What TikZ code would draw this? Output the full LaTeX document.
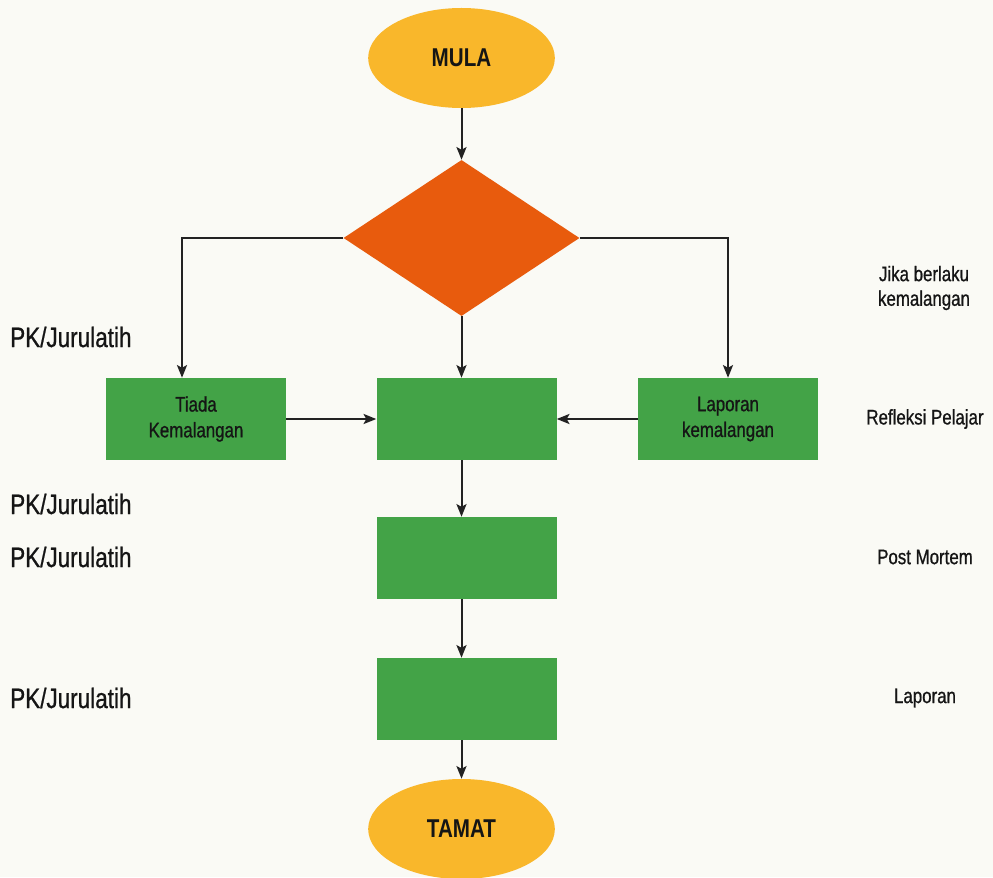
\documentclass[tikz,border=0pt]{standalone}
\usepackage{fontspec}
\setmainfont{Liberation Sans}[FakeStretch=0.8]
\newfontfamily\lblfont{Liberation Sans}[FakeStretch=0.8, FakeBold=0.8]
\newfontfamily\termfont{Liberation Sans Bold}[FakeStretch=0.8]
\usetikzlibrary{shapes.geometric,arrows.meta,calc}
\definecolor{bgc}{HTML}{FAFAF5}
\definecolor{startc}{HTML}{F9B72B}
\definecolor{decc}{HTML}{E85B0D}
\definecolor{boxc}{HTML}{43A347}
\definecolor{linec}{HTML}{222222}
\definecolor{txtc}{HTML}{151515}
\begin{document}
\begin{tikzpicture}[x=0.03cm,y=-0.03cm,
  terminal/.style={ellipse, fill=startc, minimum width=5.6cm, minimum height=3.0cm, inner sep=0pt, text=txtc, font=\termfont\fontsize{22}{26}\selectfont},
  decision/.style={diamond, fill=decc, minimum width=7.08cm, minimum height=4.68cm, inner sep=0pt},
  procbox/.style={rectangle, fill=boxc, minimum width=5.4cm, minimum height=2.46cm, inner sep=0pt, align=center, text=txtc, font=\lblfont\fontsize{18}{22}\selectfont},
  sidelbl/.style={inner sep=0pt, align=center, text=txtc, font=\lblfont\fontsize{18}{21}\selectfont},
  pklbl/.style={inner sep=0pt, anchor=west, text=txtc, font=\lblfont\fontsize{24}{28}\selectfont},
  conn/.style={draw=linec, line width=1.7pt},
  arr/.style={conn, -{Stealth[length=0.38cm,width=0.3cm,inset=0.08cm]}}
]
\fill[bgc] (0,0) rectangle (993,877);
\useasboundingbox (0,0) rectangle (993,877);

\node[terminal] (mula) at (461.5,58) {MULA};
\node[decision] (dec) at (461.5,238) {};
\node[procbox] (b1) at (196,419) {Tiada\\Kemalangan};
\node[procbox] (b0) at (466.5,419) {};
\node[procbox] (b2) at (728,419) {Laporan\\kemalangan};
\node[procbox] (m2) at (466.5,558) {};
\node[procbox] (m3) at (466.5,699) {};
\node[terminal] (tamat) at (461.5,829) {TAMAT};

\draw[arr] (mula.south) -- (dec.north);
\draw[arr] (dec.west) -| ([xshift=-0.42cm]b1.north);
\draw[arr] (dec.east) -| (b2.north);
\draw[arr] (dec.south) -- (dec.south |- b0.north);
\draw[arr] (b1.east) -- (b0.west);
\draw[arr] (b2.west) -- (b0.east);
\draw[arr] (dec.south |- b0.south) -- (dec.south |- m2.north);
\draw[arr] (dec.south |- m2.south) -- (dec.south |- m3.north);
\draw[arr] (dec.south |- m3.south) -- (tamat.north);

\node[sidelbl] (t1) at (924,288) {Jika berlaku\\kemalangan};
\node[sidelbl] (t2) at (925,419) {Refleksi Pelajar};
\node[sidelbl] (t3) at (925,557) {Post Mortem};
\node[sidelbl] (t4) at (925,698) {Laporan};

\node[pklbl] (p1) at (10,337) {PK/Jurulatih};
\node[pklbl] (p2) at (10,504) {PK/Jurulatih};
\node[pklbl] (p3) at (10,557) {PK/Jurulatih};
\node[pklbl] (p4) at (10,698) {PK/Jurulatih};
\end{tikzpicture}
\end{document}
